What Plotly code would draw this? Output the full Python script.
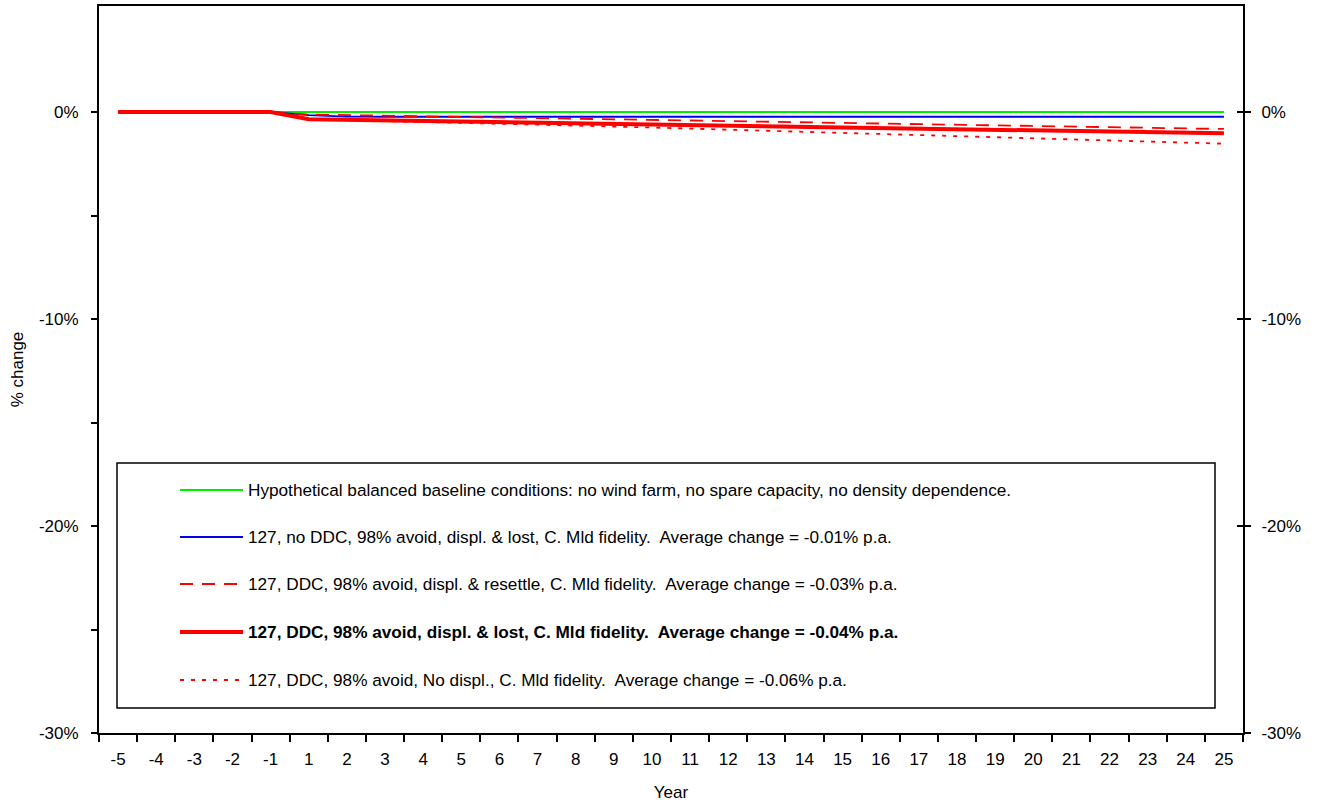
import plotly.graph_objects as go

# ---------------- data ----------------
years = ["-5", "-4", "-3", "-2", "-1"] + [str(i) for i in range(1, 26)]

baseline = [0.0] * 30
no_ddc_lost = [0, 0, 0, 0, 0,
               -0.15, -0.22, -0.23, -0.23, -0.23, -0.23, -0.23, -0.23, -0.23, -0.23,
               -0.23, -0.23, -0.23, -0.23, -0.23, -0.23, -0.23, -0.23, -0.23, -0.23,
               -0.23, -0.23, -0.23, -0.23, -0.23]
ddc_resettle = [0, 0, 0, 0, 0,
                -0.12, -0.15, -0.18, -0.20, -0.23, -0.26, -0.29, -0.32, -0.35, -0.38,
                -0.41, -0.44, -0.47, -0.50, -0.53, -0.56, -0.59, -0.62, -0.65, -0.68,
                -0.70, -0.73, -0.76, -0.79, -0.82]
ddc_lost = [0, 0, 0, 0, 0,
            -0.35, -0.38, -0.41, -0.44, -0.46, -0.49, -0.52, -0.55, -0.58, -0.61,
            -0.63, -0.66, -0.69, -0.72, -0.75, -0.77, -0.80, -0.83, -0.86, -0.89,
            -0.92, -0.95, -0.97, -1.00, -1.03]
ddc_no_displ = [0, 0, 0, 0, 0,
                -0.35, -0.39, -0.43, -0.48, -0.52, -0.56, -0.61, -0.65, -0.70, -0.75,
                -0.80, -0.85, -0.90, -0.96, -1.01, -1.06, -1.11, -1.16, -1.21, -1.27,
                -1.32, -1.37, -1.42, -1.48, -1.53]

names = [
    "Hypothetical balanced baseline conditions: no wind farm, no spare capacity, no density dependence.",
    "127, no DDC, 98% avoid, displ. & lost, C. Mld fidelity.  Average change = -0.01% p.a.",
    "127, DDC, 98% avoid, displ. & resettle, C. Mld fidelity.  Average change = -0.03% p.a.",
    "<b>127, DDC, 98% avoid, displ. & lost, C. Mld fidelity.  Average change = -0.04% p.a.</b>",
    "127, DDC, 98% avoid, No displ., C. Mld fidelity.  Average change = -0.06% p.a.",
]
y_ticks = [-30, -20, -10, 0]
y_minor = [-25, -15, -5]

# ---------------- styles ----------------
FONT = "Liberation Sans, Arial, Helvetica, sans-serif"
FS = 17
W, H = 1321, 802
L, R, T, B = 99, 1243, 6, 733
RED = "#ff0000"
styles = [
    dict(color="#00ee00", width=1.8, dash="solid"),
    dict(color="#0000ee", width=1.8, dash="solid"),
    dict(color=RED, width=1.8, dash="13px,9px"),
    dict(color=RED, width=4, dash="solid"),
    dict(color=RED, width=1.8, dash="4px,7px"),
]
series = [baseline, no_ddc_lost, ddc_resettle, ddc_lost, ddc_no_displ]
draw_order = [0, 1, 2, 4, 3]

fig = go.Figure()
for i in draw_order:
    fig.add_trace(go.Scatter(x=years, y=series[i], mode="lines", line=styles[i],
                             name=names[i], showlegend=False, hoverinfo="skip"))
# placeholders so the right-hand axes are drawn
fig.add_trace(go.Scatter(x=[years[0]], y=[0], yaxis="y2", mode="lines", showlegend=False,
                         hoverinfo="skip", line=dict(width=0)))
fig.add_trace(go.Scatter(x=[years[0]], y=[0], yaxis="y3", mode="lines", showlegend=False,
                         hoverinfo="skip", line=dict(width=0)))

def px_x(p):
    return (p - L) / (R - L)

def px_y(p):
    return (B - p) / (B - T)

# ---------------- custom legend ----------------
shapes = [dict(type="rect", xref="paper", yref="paper",
               x0=px_x(117), x1=px_x(1215), y0=px_y(708), y1=px_y(463),
               line=dict(color="black", width=1.5), fillcolor="white", layer="above")]
annotations = []
item_y = [490, 537, 584, 632, 680]
for i in range(5):
    shapes.append(dict(type="line", xref="paper", yref="paper",
                       x0=px_x(180), x1=px_x(243), y0=px_y(item_y[i]), y1=px_y(item_y[i]),
                       line=styles[i], layer="above"))
    annotations.append(dict(xref="paper", yref="paper", x=px_x(246), y=px_y(item_y[i]),
                            xanchor="left", yanchor="middle", showarrow=False,
                            text=names[i], font=dict(family=FONT, size=17.2, color="black")))

yr = [-30, 30 * (112 - T) / (B - 112)]

fig.update_layout(
    width=W, height=H,
    margin=dict(l=L, r=W - R, t=T, b=H - B, pad=0),
    paper_bgcolor="white", plot_bgcolor="white",
    font=dict(family=FONT, size=FS, color="black"),
    shapes=shapes, annotations=annotations,
    xaxis=dict(type="category", categoryorder="array", categoryarray=years,
               range=[-0.5, 29.5], tickson="boundaries", ticks="outside", ticklen=7,
               tickwidth=1.5, tickcolor="black", showline=True, linewidth=2, linecolor="black",
               mirror=True, showgrid=False, zeroline=False, ticklabelstandoff=10,
               automargin=False,
               title=dict(text="Year", standoff=25, font=dict(size=FS))),
    yaxis=dict(range=yr, tickvals=y_ticks, ticktext=[f"{v}%" for v in y_ticks],
               ticks="outside", ticklen=6, tickwidth=1.5, tickcolor="black",
               minor=dict(tickvals=y_minor, ticks="outside", ticklen=6, tickwidth=1.5,
                          tickcolor="black", showgrid=False),
               showline=True, linewidth=2, linecolor="black", mirror=True,
               showgrid=False, zeroline=False, ticklabelstandoff=9, automargin=False,
               title=dict(text="% change", standoff=11, font=dict(size=FS))),
    yaxis2=dict(range=yr, overlaying="y", side="right", tickvals=y_ticks,
                ticktext=[f"{v}%" for v in y_ticks], ticks="outside", ticklen=7,
                tickwidth=1.5, tickcolor="black", showline=False, showgrid=False,
                zeroline=False, ticklabelstandoff=7, automargin=False),
    yaxis3=dict(range=yr, overlaying="y", side="right", tickvals=y_ticks,
                ticks="inside", ticklen=6, tickwidth=1.5, tickcolor="black",
                showticklabels=False, showline=False, showgrid=False, zeroline=False,
                automargin=False),
)

fig.write_html("out.html")
